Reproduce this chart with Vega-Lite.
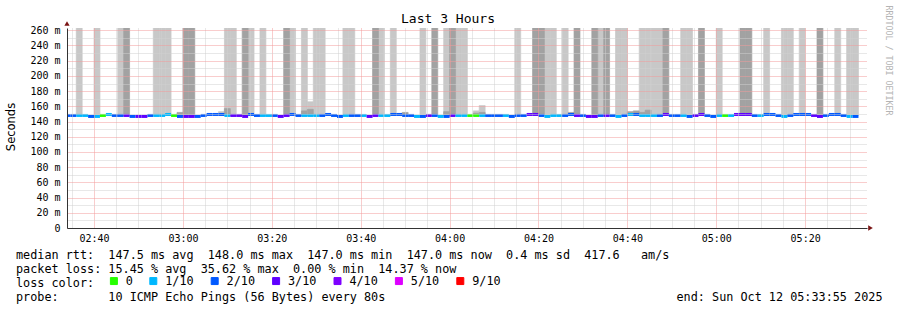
{
  "$schema": "https://vega.github.io/schema/vega-lite/v6.json",
  "width": 800,
  "height": 200,
  "autosize": "none",
  "padding": {"left": 67, "top": 28, "right": 30, "bottom": 82},
  "background": "white",
  "config": {"view": {"stroke": null}, "axis": {"gridDash": [1, 1]}},
  "title": {"text": "Last 3 Hours", "font": "DejaVu Sans Mono", "fontSize": 13, "fontWeight": "normal", "color": "#000", "anchor": "middle", "dx": -19, "baseline": "alphabetic", "offset": 0, "dy": 31},
  "datasets": {
    "smoke": [
      {"s":2160,"e":2240,"lo":148,"hi":300,"shade":"light"},
      {"s":2400,"e":2480,"lo":148,"hi":300,"shade":"light"},
      {"s":2720,"e":2800,"lo":148,"hi":300,"shade":"light"},
      {"s":3200,"e":3280,"lo":148,"hi":300,"shade":"light"},
      {"s":3280,"e":3360,"lo":148,"hi":300,"shade":"light"},
      {"s":3360,"e":3440,"lo":148,"hi":300,"shade":"light"},
      {"s":4160,"e":4240,"lo":148,"hi":300,"shade":"light"},
      {"s":4240,"e":4320,"lo":148,"hi":300,"shade":"light"},
      {"s":4480,"e":4560,"lo":148,"hi":300,"shade":"light"},
      {"s":4640,"e":4720,"lo":148,"hi":300,"shade":"light"},
      {"s":5040,"e":5120,"lo":148,"hi":300,"shade":"light"},
      {"s":5200,"e":5280,"lo":148,"hi":300,"shade":"light"},
      {"s":5360,"e":5440,"lo":148,"hi":300,"shade":"light"},
      {"s":5440,"e":5520,"lo":148,"hi":300,"shade":"light"},
      {"s":5760,"e":5840,"lo":148,"hi":300,"shade":"light"},
      {"s":5840,"e":5920,"lo":148,"hi":300,"shade":"light"},
      {"s":6240,"e":6320,"lo":148,"hi":300,"shade":"light"},
      {"s":6400,"e":6480,"lo":148,"hi":300,"shade":"light"},
      {"s":6800,"e":6880,"lo":148,"hi":300,"shade":"light"},
      {"s":7120,"e":7200,"lo":148,"hi":300,"shade":"light"},
      {"s":7280,"e":7360,"lo":148,"hi":300,"shade":"light"},
      {"s":7360,"e":7440,"lo":148,"hi":300,"shade":"light"},
      {"s":8080,"e":8160,"lo":148,"hi":300,"shade":"light"},
      {"s":8480,"e":8560,"lo":148,"hi":300,"shade":"light"},
      {"s":8560,"e":8640,"lo":148,"hi":300,"shade":"light"},
      {"s":8720,"e":8800,"lo":148,"hi":300,"shade":"light"},
      {"s":9200,"e":9280,"lo":148,"hi":300,"shade":"light"},
      {"s":9440,"e":9520,"lo":148,"hi":300,"shade":"light"},
      {"s":9520,"e":9600,"lo":148,"hi":300,"shade":"light"},
      {"s":9760,"e":9840,"lo":148,"hi":300,"shade":"light"},
      {"s":9840,"e":9920,"lo":148,"hi":300,"shade":"light"},
      {"s":9920,"e":10000,"lo":148,"hi":300,"shade":"light"},
      {"s":10000,"e":10080,"lo":148,"hi":300,"shade":"light"},
      {"s":10320,"e":10400,"lo":148,"hi":300,"shade":"light"},
      {"s":10400,"e":10480,"lo":148,"hi":300,"shade":"light"},
      {"s":10800,"e":10880,"lo":148,"hi":300,"shade":"light"},
      {"s":11440,"e":11520,"lo":148,"hi":300,"shade":"light"},
      {"s":11680,"e":11760,"lo":148,"hi":300,"shade":"light"},
      {"s":11760,"e":11840,"lo":148,"hi":300,"shade":"light"},
      {"s":11920,"e":12000,"lo":148,"hi":300,"shade":"light"},
      {"s":12400,"e":12480,"lo":148,"hi":300,"shade":"light"},
      {"s":12560,"e":12640,"lo":148,"hi":300,"shade":"light"},
      {"s":12640,"e":12720,"lo":148,"hi":300,"shade":"light"},
      {"s":2800,"e":2880,"lo":148,"hi":300,"shade":"dark"},
      {"s":3600,"e":3680,"lo":148,"hi":300,"shade":"dark"},
      {"s":3680,"e":3760,"lo":148,"hi":300,"shade":"dark"},
      {"s":4400,"e":4480,"lo":148,"hi":300,"shade":"dark"},
      {"s":4960,"e":5040,"lo":148,"hi":300,"shade":"dark"},
      {"s":6160,"e":6240,"lo":148,"hi":300,"shade":"dark"},
      {"s":6960,"e":7040,"lo":148,"hi":300,"shade":"dark"},
      {"s":7200,"e":7280,"lo":148,"hi":300,"shade":"dark"},
      {"s":8320,"e":8400,"lo":148,"hi":300,"shade":"dark"},
      {"s":8400,"e":8480,"lo":148,"hi":300,"shade":"dark"},
      {"s":8880,"e":8960,"lo":148,"hi":300,"shade":"dark"},
      {"s":9120,"e":9200,"lo":148,"hi":300,"shade":"dark"},
      {"s":9280,"e":9360,"lo":148,"hi":300,"shade":"dark"},
      {"s":10080,"e":10160,"lo":148,"hi":300,"shade":"dark"},
      {"s":10560,"e":10640,"lo":148,"hi":300,"shade":"dark"},
      {"s":11120,"e":11200,"lo":148,"hi":300,"shade":"dark"},
      {"s":11200,"e":11280,"lo":148,"hi":300,"shade":"dark"},
      {"s":12160,"e":12240,"lo":148,"hi":300,"shade":"dark"},
      {"s":3520,"e":3600,"lo":148,"hi":152,"shade":"dark"},
      {"s":4080,"e":4160,"lo":148,"hi":153,"shade":"light"},
      {"s":4160,"e":4240,"lo":148,"hi":157,"shade":"dark"},
      {"s":5200,"e":5280,"lo":148,"hi":154,"shade":"dark"},
      {"s":5280,"e":5360,"lo":148,"hi":166,"shade":"light"},
      {"s":5280,"e":5360,"lo":148,"hi":156,"shade":"dark"},
      {"s":6560,"e":6640,"lo":148,"hi":152,"shade":"dark"},
      {"s":7120,"e":7200,"lo":148,"hi":153,"shade":"dark"},
      {"s":7520,"e":7600,"lo":148,"hi":154,"shade":"light"},
      {"s":7520,"e":7600,"lo":148,"hi":151,"shade":"dark"},
      {"s":7600,"e":7680,"lo":148,"hi":161,"shade":"light"},
      {"s":7600,"e":7680,"lo":148,"hi":152,"shade":"dark"},
      {"s":8800,"e":8880,"lo":148,"hi":152,"shade":"dark"},
      {"s":9600,"e":9680,"lo":148,"hi":153,"shade":"dark"},
      {"s":9680,"e":9760,"lo":148,"hi":154,"shade":"dark"},
      {"s":9760,"e":9840,"lo":148,"hi":152,"shade":"dark"},
      {"s":9840,"e":9920,"lo":148,"hi":155,"shade":"dark"}
    ],
    "steps": [
      {"s":2000,"e":2080,"med":148,"loss":"2/10"},
      {"s":2080,"e":2160,"med":148,"loss":"2/10"},
      {"s":2160,"e":2240,"med":148,"loss":"1/10"},
      {"s":2240,"e":2320,"med":148,"loss":"1/10"},
      {"s":2320,"e":2400,"med":146.7,"loss":"2/10"},
      {"s":2400,"e":2480,"med":146.7,"loss":"1/10"},
      {"s":2480,"e":2560,"med":148,"loss":"0"},
      {"s":2560,"e":2640,"med":149.3,"loss":"1/10"},
      {"s":2640,"e":2720,"med":148,"loss":"2/10"},
      {"s":2720,"e":2800,"med":148,"loss":"2/10"},
      {"s":2800,"e":2880,"med":148,"loss":"3/10"},
      {"s":2880,"e":2960,"med":146.7,"loss":"2/10"},
      {"s":2960,"e":3040,"med":146.7,"loss":"3/10"},
      {"s":3040,"e":3120,"med":146.7,"loss":"3/10"},
      {"s":3120,"e":3200,"med":148,"loss":"2/10"},
      {"s":3200,"e":3280,"med":148,"loss":"1/10"},
      {"s":3280,"e":3360,"med":148,"loss":"1/10"},
      {"s":3360,"e":3440,"med":149.3,"loss":"1/10"},
      {"s":3440,"e":3520,"med":148,"loss":"0"},
      {"s":3520,"e":3600,"med":146.7,"loss":"2/10"},
      {"s":3600,"e":3680,"med":146.7,"loss":"3/10"},
      {"s":3680,"e":3760,"med":146.7,"loss":"3/10"},
      {"s":3760,"e":3840,"med":146.7,"loss":"2/10"},
      {"s":3840,"e":3920,"med":148,"loss":"2/10"},
      {"s":3920,"e":4000,"med":149.3,"loss":"2/10"},
      {"s":4000,"e":4080,"med":149.3,"loss":"2/10"},
      {"s":4080,"e":4160,"med":149.3,"loss":"2/10"},
      {"s":4160,"e":4240,"med":148,"loss":"1/10"},
      {"s":4240,"e":4320,"med":148,"loss":"3/10"},
      {"s":4320,"e":4400,"med":148,"loss":"3/10"},
      {"s":4400,"e":4480,"med":146.7,"loss":"3/10"},
      {"s":4480,"e":4560,"med":149.3,"loss":"2/10"},
      {"s":4560,"e":4640,"med":148,"loss":"2/10"},
      {"s":4640,"e":4720,"med":148,"loss":"1/10"},
      {"s":4720,"e":4800,"med":148,"loss":"1/10"},
      {"s":4800,"e":4880,"med":148,"loss":"2/10"},
      {"s":4880,"e":4960,"med":146.7,"loss":"3/10"},
      {"s":4960,"e":5040,"med":148,"loss":"3/10"},
      {"s":5040,"e":5120,"med":149.3,"loss":"2/10"},
      {"s":5120,"e":5200,"med":148,"loss":"2/10"},
      {"s":5200,"e":5280,"med":148,"loss":"1/10"},
      {"s":5280,"e":5360,"med":148,"loss":"1/10"},
      {"s":5360,"e":5440,"med":148,"loss":"1/10"},
      {"s":5440,"e":5520,"med":148,"loss":"2/10"},
      {"s":5520,"e":5600,"med":149.3,"loss":"2/10"},
      {"s":5600,"e":5680,"med":148,"loss":"2/10"},
      {"s":5680,"e":5760,"med":146.7,"loss":"2/10"},
      {"s":5760,"e":5840,"med":148,"loss":"1/10"},
      {"s":5840,"e":5920,"med":148,"loss":"2/10"},
      {"s":5920,"e":6000,"med":148,"loss":"2/10"},
      {"s":6000,"e":6080,"med":148,"loss":"1/10"},
      {"s":6080,"e":6160,"med":146.7,"loss":"3/10"},
      {"s":6160,"e":6240,"med":148,"loss":"3/10"},
      {"s":6240,"e":6320,"med":148,"loss":"1/10"},
      {"s":6320,"e":6400,"med":148,"loss":"1/10"},
      {"s":6400,"e":6480,"med":149.3,"loss":"2/10"},
      {"s":6480,"e":6560,"med":149.3,"loss":"2/10"},
      {"s":6560,"e":6640,"med":148,"loss":"2/10"},
      {"s":6640,"e":6720,"med":148,"loss":"2/10"},
      {"s":6720,"e":6800,"med":146.7,"loss":"1/10"},
      {"s":6800,"e":6880,"med":146.7,"loss":"2/10"},
      {"s":6880,"e":6960,"med":148,"loss":"3/10"},
      {"s":6960,"e":7040,"med":148,"loss":"2/10"},
      {"s":7040,"e":7120,"med":146.7,"loss":"1/10"},
      {"s":7120,"e":7200,"med":146.7,"loss":"2/10"},
      {"s":7200,"e":7280,"med":148,"loss":"3/10"},
      {"s":7280,"e":7360,"med":148,"loss":"1/10"},
      {"s":7360,"e":7440,"med":148,"loss":"1/10"},
      {"s":7440,"e":7520,"med":148,"loss":"0"},
      {"s":7520,"e":7600,"med":148,"loss":"0"},
      {"s":7600,"e":7680,"med":148,"loss":"1/10"},
      {"s":7680,"e":7760,"med":148,"loss":"2/10"},
      {"s":7760,"e":7840,"med":148,"loss":"2/10"},
      {"s":7840,"e":7920,"med":148,"loss":"2/10"},
      {"s":7920,"e":8000,"med":148,"loss":"1/10"},
      {"s":8000,"e":8080,"med":146.7,"loss":"2/10"},
      {"s":8080,"e":8160,"med":148,"loss":"2/10"},
      {"s":8160,"e":8240,"med":148,"loss":"2/10"},
      {"s":8240,"e":8320,"med":149.3,"loss":"3/10"},
      {"s":8320,"e":8400,"med":149.3,"loss":"3/10"},
      {"s":8400,"e":8480,"med":148,"loss":"2/10"},
      {"s":8480,"e":8560,"med":146.7,"loss":"1/10"},
      {"s":8560,"e":8640,"med":148,"loss":"1/10"},
      {"s":8640,"e":8720,"med":148,"loss":"1/10"},
      {"s":8720,"e":8800,"med":148,"loss":"2/10"},
      {"s":8800,"e":8880,"med":149.3,"loss":"2/10"},
      {"s":8880,"e":8960,"med":148,"loss":"3/10"},
      {"s":8960,"e":9040,"med":148,"loss":"2/10"},
      {"s":9040,"e":9120,"med":146.7,"loss":"3/10"},
      {"s":9120,"e":9200,"med":146.7,"loss":"3/10"},
      {"s":9200,"e":9280,"med":148,"loss":"2/10"},
      {"s":9280,"e":9360,"med":148,"loss":"3/10"},
      {"s":9360,"e":9440,"med":148,"loss":"2/10"},
      {"s":9440,"e":9520,"med":146.7,"loss":"1/10"},
      {"s":9520,"e":9600,"med":148,"loss":"2/10"},
      {"s":9600,"e":9680,"med":149.3,"loss":"1/10"},
      {"s":9680,"e":9760,"med":149.3,"loss":"2/10"},
      {"s":9760,"e":9840,"med":148,"loss":"1/10"},
      {"s":9840,"e":9920,"med":148,"loss":"1/10"},
      {"s":9920,"e":10000,"med":148,"loss":"1/10"},
      {"s":10000,"e":10080,"med":148,"loss":"2/10"},
      {"s":10080,"e":10160,"med":149.3,"loss":"3/10"},
      {"s":10160,"e":10240,"med":148,"loss":"2/10"},
      {"s":10240,"e":10320,"med":148,"loss":"2/10"},
      {"s":10320,"e":10400,"med":148,"loss":"1/10"},
      {"s":10400,"e":10480,"med":146.7,"loss":"2/10"},
      {"s":10480,"e":10560,"med":148,"loss":"3/10"},
      {"s":10560,"e":10640,"med":149.3,"loss":"3/10"},
      {"s":10640,"e":10720,"med":148,"loss":"2/10"},
      {"s":10720,"e":10800,"med":146.7,"loss":"2/10"},
      {"s":10800,"e":10880,"med":148,"loss":"1/10"},
      {"s":10880,"e":10960,"med":148,"loss":"0"},
      {"s":10960,"e":11040,"med":148,"loss":"1/10"},
      {"s":11040,"e":11120,"med":149.3,"loss":"3/10"},
      {"s":11120,"e":11200,"med":149.3,"loss":"3/10"},
      {"s":11200,"e":11280,"med":149.3,"loss":"3/10"},
      {"s":11280,"e":11360,"med":148,"loss":"2/10"},
      {"s":11360,"e":11440,"med":148,"loss":"1/10"},
      {"s":11440,"e":11520,"med":149.3,"loss":"2/10"},
      {"s":11520,"e":11600,"med":149.3,"loss":"2/10"},
      {"s":11600,"e":11680,"med":148,"loss":"2/10"},
      {"s":11680,"e":11760,"med":146.7,"loss":"1/10"},
      {"s":11760,"e":11840,"med":148,"loss":"2/10"},
      {"s":11840,"e":11920,"med":149.3,"loss":"2/10"},
      {"s":11920,"e":12000,"med":149.3,"loss":"2/10"},
      {"s":12000,"e":12080,"med":149.3,"loss":"2/10"},
      {"s":12080,"e":12160,"med":148,"loss":"3/10"},
      {"s":12160,"e":12240,"med":146.7,"loss":"3/10"},
      {"s":12240,"e":12320,"med":148,"loss":"2/10"},
      {"s":12320,"e":12400,"med":149.3,"loss":"2/10"},
      {"s":12400,"e":12480,"med":149.3,"loss":"2/10"},
      {"s":12480,"e":12560,"med":148,"loss":"2/10"},
      {"s":12560,"e":12640,"med":146.7,"loss":"1/10"},
      {"s":12640,"e":12720,"med":146.7,"loss":"2/10"}
    ]
  },
  "encoding": {
    "x": {
      "field": "s", "type": "quantitative",
      "scale": {"domain": [2035, 12835], "nice": false, "zero": false},
      "axis": {
        "values": [2100,2400,2700,3000,3300,3600,3900,4200,4500,4800,5100,5400,5700,6000,6300,6600,6900,7200,7500,7800,8100,8400,8700,9000,9300,9600,9900,10200,10500,10800,11100,11400,11700,12000,12300,12600],
        "labelExpr": "datum.value % 1200 === 0 ? '0' + (2 + floor(datum.value / 3600)) + ':' + (floor((datum.value % 3600) / 60) < 10 ? '0' : '') + floor((datum.value % 3600) / 60) : ''",
        "labelOverlap": false, "labelFlush": false, "labelBound": false,
        "labelFont": "DejaVu Sans Mono", "labelFontSize": 10, "labelColor": "#000", "labelPadding": 5,
        "ticks": false,
        "grid": true, "gridDash": [1, 1], "gridWidth": 1,
        "gridColor": {"condition": {"test": "datum.value % 1200 === 0", "value": "#f29a9a"}, "value": "#d0d0d0"},
        "domainColor": "#333", "domainWidth": 1,
        "zindex": 1,
        "encode": {"grid": {"update": {"strokeDash": {"value": [1, 1]}}}},
        "title": [
          "median rtt:\u00a0\u00a0147.5 ms avg\u00a0\u00a0148.0 ms max\u00a0\u00a0147.0 ms min\u00a0\u00a0147.0 ms now\u00a0\u00a00.4 ms sd\u00a0\u00a0417.6\u00a0\u00a0\u00a0am/s",
          "packet loss: 15.45 % avg\u00a0\u00a035.62 % max\u00a0\u00a00.00 % min\u00a0\u00a014.37 % now",
          "loss color:",
          "probe:\u00a0\u00a0\u00a0\u00a0\u00a0\u00a0\u00a010 ICMP Echo Pings (56 Bytes) every 80s\u00a0\u00a0\u00a0\u00a0\u00a0\u00a0\u00a0\u00a0\u00a0\u00a0\u00a0\u00a0\u00a0\u00a0\u00a0\u00a0\u00a0\u00a0\u00a0\u00a0\u00a0\u00a0\u00a0\u00a0\u00a0\u00a0\u00a0\u00a0\u00a0\u00a0\u00a0\u00a0\u00a0\u00a0\u00a0\u00a0\u00a0\u00a0\u00a0\u00a0\u00a0end: Sun Oct 12 05:33:55 2025"
        ],
        "titleFont": "DejaVu Sans Mono", "titleFontSize": 11.8, "titleFontWeight": "normal", "titleColor": "#000",
        "titleAlign": "left", "titleAnchor": "start", "titleBaseline": "alphabetic",
        "titleX": -51.5, "titleY": 30, "titleLineHeight": 14
      }
    },
    "x2": {"field": "e"}
  },
  "layer": [
    {
      "data": {"name": "smoke"},
      "mark": {"type": "rect", "clip": true, "strokeWidth": 0.7},
      "encoding": {
        "y": {
          "field": "lo", "type": "quantitative",
          "scale": {"domain": [0, 263], "nice": false, "zero": true},
          "axis": {
            "values": [0,10,20,30,40,50,60,70,80,90,100,110,120,130,140,150,160,170,180,190,200,210,220,230,240,250,260],
            "labelExpr": "datum.value % 20 === 0 ? (datum.value === 0 ? '0' : datum.value + ' m') : ''",
            "labelOverlap": false, "labelFont": "DejaVu Sans Mono", "labelFontSize": 10, "labelColor": "#000", "labelPadding": 7,
            "ticks": false,
            "grid": true, "gridDash": [1, 1], "gridWidth": 1,
            "gridColor": {"condition": {"test": "datum.value % 20 === 0", "value": "#f29a9a"}, "value": "#d0d0d0"},
            "domainColor": "#333", "domainWidth": 1,
            "zindex": 1,
            "encode": {"grid": {"update": {"strokeDash": {"value": [1, 1]}}}},
            "title": "Seconds", "titleFont": "DejaVu Sans", "titleFontSize": 11.5, "titleFontWeight": "normal", "titleColor": "#000",
            "titleAngle": 270, "titleAlign": "center", "titleBaseline": "middle",
            "titleX": -56, "titleY": 98.5
          }
        },
        "y2": {"field": "hi"},
        "fill": {
          "field": "shade", "type": "nominal",
          "scale": {"domain": ["light", "dark"], "range": ["#c8c8c8", "#a2a2a2"]},
          "legend": null
        },
        "stroke": {
          "field": "shade", "type": "nominal",
          "scale": {"domain": ["light", "dark"], "range": ["#c8c8c8", "#a2a2a2"]},
          "legend": null
        }
      }
    },
    {
      "data": {"name": "steps"},
      "mark": {"type": "rule", "strokeWidth": 3, "clip": true, "strokeCap": "butt"},
      "encoding": {
        "y": {
          "field": "med", "type": "quantitative",
          "axis": {
            "orient": "right", "labels": false, "ticks": false, "domain": false, "grid": false,
            "title": "RRDTOOL / TOBI OETIKER", "titleFont": "DejaVu Sans Mono", "titleFontSize": 8.3, "titleFontWeight": "normal",
            "titleColor": "#b4b4b4", "titleAngle": 90, "titleAlign": "center", "titleBaseline": "middle",
            "titleX": 20, "titleY": 32
          }
        },
        "color": {
          "field": "loss", "type": "nominal",
          "scale": {"domain": ["0", "1/10", "2/10", "3/10", "4/10", "5/10", "9/10"],
                    "range": ["#26ff00", "#00b8ff", "#0059ff", "#5e00ff", "#7e00ff", "#dd00ff", "#ff0000"]},
          "legend": {
            "orient": "none", "legendX": 41, "legendY": 247, "direction": "horizontal", "columns": 7,
            "title": null, "padding": 0,
            "labelFont": "DejaVu Sans Mono", "labelFontSize": 11.8, "labelColor": "#000", "labelOffset": 6,
            "columnPadding": 14.4, "symbolType": "square", "symbolSize": 49,
            "symbolStrokeColor": "#000", "symbolStrokeWidth": 1,
            "encode": {"symbols": {"update": {
              "fill": {"scale": "color", "field": "value"},
              "stroke": {"value": "#000"}, "strokeWidth": {"value": 1},
              "opacity": {"value": 1}, "fillOpacity": {"value": 1}
            }}}
          }
        }
      }
    },
    {
      "data": {"values": [{"s": 12835, "v": 0}]},
      "mark": {"type": "point", "shape": "triangle-right", "filled": true, "size": 28, "color": "#7a1414", "opacity": 1, "xOffset": 3.5},
      "encoding": {
        "y": {"field": "v", "type": "quantitative", "axis": null}
      }
    },
    {
      "data": {"values": [{"s": 2035, "v": 263}]},
      "mark": {"type": "point", "shape": "triangle-up", "filled": true, "size": 28, "color": "#7a1414", "opacity": 1, "yOffset": -4.5},
      "encoding": {
        "y": {"field": "v", "type": "quantitative", "axis": null}
      }
    }
  ],
  "resolve": {"axis": {"y": "independent"}}
}
